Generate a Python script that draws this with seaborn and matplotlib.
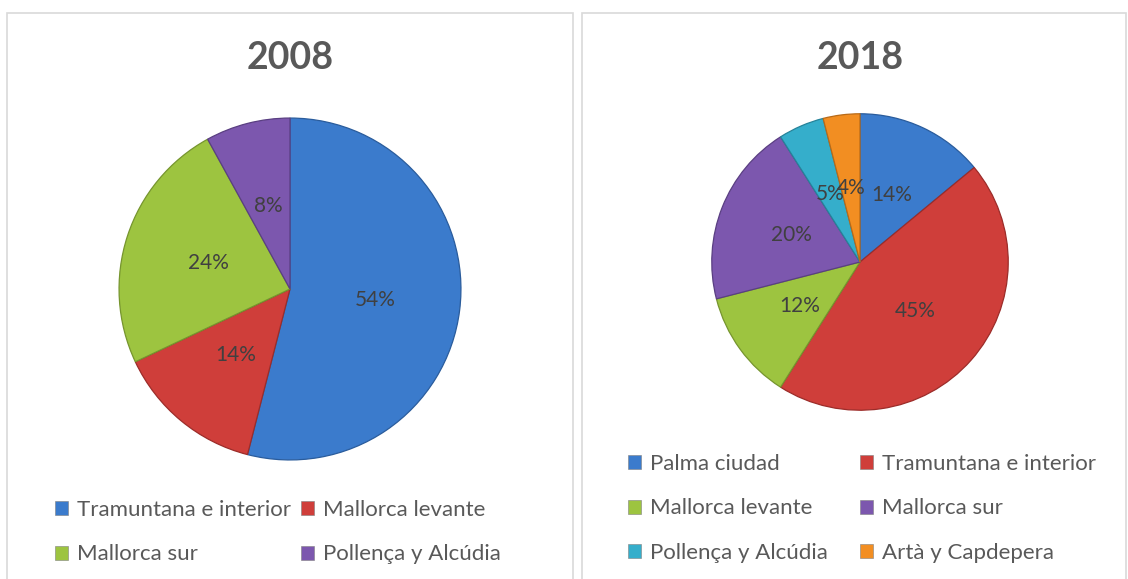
import matplotlib
matplotlib.use("Agg")
import matplotlib.pyplot as plt
from matplotlib.patches import Rectangle, Patch
import seaborn as sns

sns.set_theme(style="white")
plt.rcParams['font.family'] = ['Lato', 'DejaVu Sans']

# data
labels_2008 = ["Tramuntana e interior", "Mallorca levante", "Mallorca sur", "Pollença y Alcúdia"]
values_2008 = [54, 14, 24, 8]
labels_2018 = ["Palma ciudad", "Tramuntana e interior", "Mallorca levante",
               "Mallorca sur", "Pollença y Alcúdia", "Artà y Capdepera"]
values_2018 = [14, 45, 12, 20, 5, 4]

palette = ["#3B7BCC", "#CF3E3A", "#9DC440", "#7C57AE", "#35AECB", "#F28E22"]
edges = ["#2A5C9C", "#9C2C29", "#76952E", "#5A3F82", "#26839A", "#B86A18"]

W, H = 1128, 579
fig = plt.figure(figsize=(W / 100, H / 100), dpi=100)


def fx(px):
    return px / W


def fy(py):
    return 1 - py / H


# panel frames
for x0, x1 in [(7, 573), (582, 1126)]:
    fig.patches.append(Rectangle((fx(x0), fy(600)), fx(x1 - x0), (600 - 13) / H,
                                 transform=fig.transFigure, fill=False,
                                 edgecolor="#d9d9d9", linewidth=1.2))


def draw_pie(cx, cy, r, vals, title, tx):
    ax = fig.add_axes([fx(cx - r - 2), fy(cy + r + 2), fx(2 * r + 4), (2 * r + 4) / H])
    n = len(vals)
    wedges, texts, autotexts = ax.pie(
        vals, colors=palette[:n], startangle=90, counterclock=False,
        autopct=lambda p: f"{p:.0f}%", pctdistance=0.5,
        wedgeprops=dict(linewidth=0.9),
        textprops=dict(color="#404040", fontsize=15))
    for w, e in zip(wedges, edges):
        w.set_edgecolor(e)
    ax.set_xlim(-1.012, 1.012)
    ax.set_ylim(-1.012, 1.012)
    ax.axis("off")
    fig.text(fx(tx), fy(58), title, ha="center", va="center",
             fontsize=27, fontweight="bold", color="#595959")


draw_pie(290, 289, 171, values_2008, "2008", 290)
draw_pie(860, 262, 148, values_2018, "2018", 860)


def legend_col(labels, colors, x, y):
    handles = [Patch(facecolor=c, edgecolor="#808080", linewidth=0.4) for c in colors]
    fig.legend(handles, labels, loc="upper left", bbox_to_anchor=(fx(x), fy(y)),
               frameon=False, fontsize=16, labelcolor="#595959",
               handlelength=0.6, handleheight=0.6, handletextpad=0.4,
               labelspacing=1.1, borderpad=0, borderaxespad=0)


legend_col(labels_2008[0::2], palette[0:4:2], 55, 500)
legend_col(labels_2008[1::2], palette[1:4:2], 301, 500)
legend_col(labels_2018[0::2], palette[0:6:2], 628, 454)
legend_col(labels_2018[1::2], palette[1:6:2], 860, 454)

fig.savefig("out.png", dpi=100, facecolor="white")
